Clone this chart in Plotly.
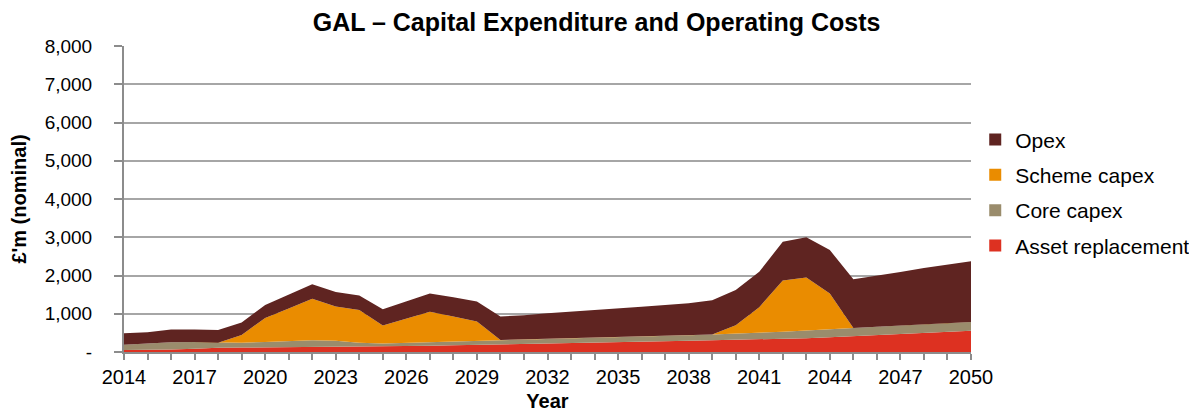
import plotly.graph_objects as go

years = list(range(2014, 2051))

asset_replacement = [50, 55, 65, 85, 110, 115, 120, 120, 125, 135, 150, 150, 155, 165, 175, 185,
                     200, 210, 220, 230, 240, 255, 270, 285, 295, 310, 320, 335, 350, 360, 385,
                     415, 440, 465, 495, 525, 555]
core_capex = [140, 170, 190, 175, 135, 130, 140, 165, 185, 160, 95, 75, 85, 95, 100, 105,
              115, 120, 125, 130, 135, 135, 135, 135, 140, 145, 155, 165, 180, 200, 210,
              215, 220, 225, 225, 230, 230]
scheme_capex = [0, 0, 0, 0, 0, 200, 630, 855, 1080, 895, 855, 465, 630, 790, 655, 510,
                0, 0, 0, 0, 0, 0, 0, 0, 0, 0, 225, 670, 1340, 1390, 935,
                0, 0, 0, 0, 0, 0]
opex = [300, 290, 330, 330, 330, 325, 340, 370, 380, 380, 380, 430, 460, 480, 500, 520,
        615, 630, 665, 690, 725, 745, 780, 810, 840, 895, 920, 930, 1010, 1050, 1135,
        1270, 1330, 1400, 1475, 1535, 1585]

series = [
    ("Asset replacement", asset_replacement, "#dd3121"),
    ("Core capex", core_capex, "#9a8c6c"),
    ("Scheme capex", scheme_capex, "#ea8c00"),
    ("Opex", opex, "#5f2421"),
]

y_ticks = [0, 1000, 2000, 3000, 4000, 5000, 6000, 7000, 8000]
y_labels = ["-", "1,000", "2,000", "3,000", "4,000", "5,000", "6,000", "7,000", "8,000"]

FONT = "Liberation Sans, Arial, sans-serif"

fig = go.Figure()
for name, vals, col in series:
    fig.add_trace(go.Scatter(
        x=years, y=vals, name=name, stackgroup="one", mode="lines",
        line=dict(width=0, color=col), fillcolor=col, showlegend=False,
        hoverinfo="x+y+name"))

# legend entries (square markers), top to bottom
for i, (name, vals, col) in enumerate(reversed(series)):
    fig.add_trace(go.Scatter(
        x=[None], y=[None], name=name, mode="markers",
        marker=dict(symbol="square", size=12, color=col),
        legendgroup=f"g{i}", showlegend=True))

fig.update_layout(
    width=1189, height=404,
    margin=dict(l=116, r=226, t=38, b=60, autoexpand=False),
    paper_bgcolor="white", plot_bgcolor="white",
    font=dict(family=FONT, size=19, color="#000000"),
    title=dict(text="<b>GAL – Capital Expenditure and Operating Costs</b>",
               x=0.495, xanchor="center", xref="container", y=0.965, yref="container",
               yanchor="middle", font=dict(size=25, color="#000000")),
    legend=dict(x=1.005, xanchor="left", y=0.52, yanchor="middle",
                traceorder="grouped", tracegroupgap=5,
                font=dict(size=21), itemwidth=30),
    xaxis=dict(range=[2014, 2050], tickmode="linear", tick0=2014, dtick=3,
               automargin=False,
               showgrid=False, showline=True, linecolor="#8c8c8c", linewidth=2,
               ticks="outside", ticklen=6, tickcolor="#8c8c8c", tickwidth=2,
               tickfont=dict(size=20),
               minor=dict(tickmode="linear", tick0=2014, dtick=1, ticks="outside",
                          ticklen=6, tickcolor="#8c8c8c", tickwidth=2, showgrid=False),
               title=dict(text="<b>Year</b>", standoff=10, font=dict(size=20)),
               zeroline=False),
    yaxis=dict(range=[0, 8000], tickvals=y_ticks, ticktext=y_labels,
               automargin=False,
               showgrid=True, gridcolor="#a6a6a6", gridwidth=2,
               showline=True, linecolor="#8c8c8c", linewidth=2,
               ticks="outside", ticklen=8, tickcolor="#8c8c8c", tickwidth=2,
               ticklabelstandoff=18, tickfont=dict(size=19),
               title=dict(text="<b>£'m (nominal)</b>", standoff=17, font=dict(size=20)),
               zeroline=False),
)

fig.write_html("out.html")
